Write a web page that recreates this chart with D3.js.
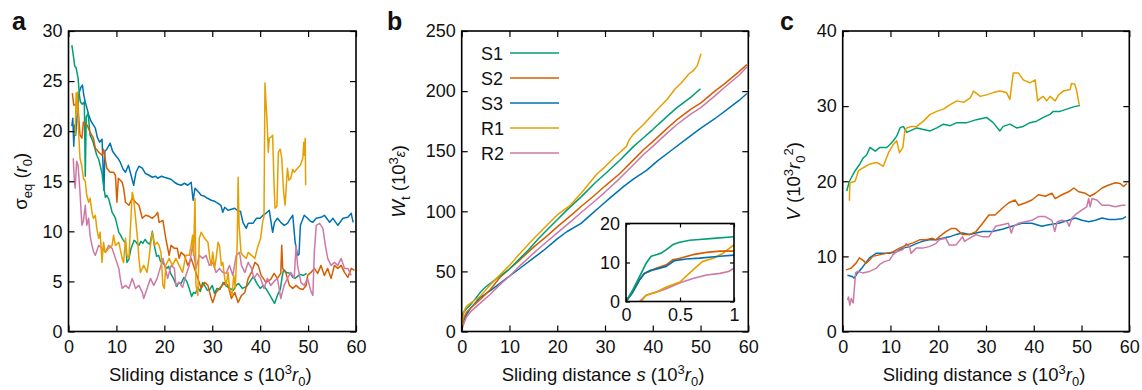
<!DOCTYPE html>
<html>
<head>
<meta charset="utf-8">
<script src="https://cdn.jsdelivr.net/npm/d3@7"></script>
<style>
  body { margin: 0; background: #fff; }
  svg text { font-family: "Liberation Sans", Arial, Helvetica, sans-serif; fill: #111; }
</style>
</head>
<body>
<div id="chart"></div>
<script>
// ---- data: [sliding distance s (10^3 r0), value] ----
const seriesKeys = ['S1', 'S2', 'S3', 'R1', 'R2'];

// panel a: sigma_eq (r0)
const sigmaS1 = [[0.7,28.6],[1.0,27.6],[1.3,26.5],[1.6,26.3],[2.0,25.3],[2.3,23.5],[2.5,22.9],[2.9,22.7],[3.3,22.9],[3.5,15.5],[3.7,21.4],[4.1,21.8],[4.5,19.6],[4.9,19.2],[5.2,18.8],[5.6,18.1],[5.9,17.6],[6.3,17.2],[6.6,16.6],[7.0,15.8],[7.3,14.6],[7.7,13.4],[8.0,13.6],[8.4,13.2],[8.8,12.5],[9.1,11.9],[9.5,11.6],[9.8,11.3],[10.2,10.5],[10.5,9.9],[10.9,9.6],[11.2,9.3],[11.6,9.0],[11.9,8.9],[12.2,6.9],[12.6,7.2],[13.0,8.2],[13.3,8.6],[13.7,9.1],[14.0,9.0],[14.4,8.7],[14.7,8.6],[15.1,9.0],[15.5,8.8],[16.0,9.2],[16.4,8.9],[17.0,8.7],[17.5,10.0],[17.9,8.6],[18.4,7.5],[18.8,7.6],[19.2,7.0],[19.8,6.8],[20.5,6.3],[20.9,6.5],[21.3,5.8],[21.9,5.3],[22.6,4.5],[23.0,4.9],[23.5,4.8],[24.1,5.4],[24.7,5.0],[25.2,4.3],[25.7,3.5],[26.1,3.9],[26.5,3.8],[27.0,4.4],[27.5,4.0],[28.0,4.9],[28.5,4.5],[29.0,4.1],[29.5,4.2],[30.0,4.6],[30.5,3.8],[31.0,4.3],[31.6,4.2],[32.3,4.9],[33.0,4.5],[33.7,4.3],[34.4,4.1],[35.0,4.6],[35.5,4.8],[36.3,4.3],[37.2,4.5],[37.9,5.0],[38.6,5.5],[39.3,4.8],[40.0,4.3],[40.7,4.6],[41.3,4.2],[41.8,3.8],[42.4,3.3],[43.0,2.8],[43.6,3.6],[44.2,4.2],[44.6,5.5],[44.9,6.2],[45.5,5.9],[46.3,5.8],[46.8,5.4],[47.3,5.3],[47.8,5.5],[48.3,5.7],[49.0,5.6],[49.7,5.8]];
const sigmaS2 = [[0.8,23.8],[1.1,22.6],[1.4,22.6],[1.7,22.9],[2.0,22.3],[2.4,19.6],[2.8,19.3],[3.1,20.9],[3.5,20.7],[3.9,20.6],[4.5,19.9],[5.2,19.3],[5.6,18.3],[6.0,18.1],[6.3,17.9],[7.0,17.6],[7.3,18.2],[8.0,16.3],[8.7,15.9],[9.4,15.9],[9.8,15.6],[10.1,12.9],[10.4,15.3],[11.2,14.9],[11.5,14.3],[11.9,12.9],[12.6,12.6],[13.3,13.3],[14.0,12.9],[14.7,12.6],[15.4,11.3],[16.1,11.6],[16.8,11.5],[17.5,11.3],[18.2,11.6],[18.6,11.9],[18.9,10.9],[19.7,11.1],[20.3,9.3],[21.0,7.6],[21.4,8.6],[22.1,8.3],[22.7,8.3],[23.1,7.3],[23.5,7.9],[24.2,7.6],[24.9,6.6],[25.6,7.3],[26.3,6.3],[27.0,5.3],[27.7,4.3],[28.4,4.9],[29.1,4.6],[29.8,3.3],[30.1,2.9],[30.8,3.9],[31.5,4.3],[32.6,4.9],[33.3,4.6],[34.0,3.3],[34.7,3.9],[35.4,2.9],[36.1,3.6],[36.8,3.9],[37.5,5.3],[38.2,5.9],[38.9,6.9],[39.6,6.6],[40.2,5.6],[40.8,5.2],[41.2,4.9],[42.2,5.2],[42.9,5.8],[43.6,5.3],[44.3,5.8],[44.5,8.6],[44.7,6.3],[45.4,5.8],[46.1,4.6],[46.8,4.3],[47.5,4.6],[48.2,4.3],[48.9,4.2],[49.6,4.6],[49.9,5.6],[50.6,5.9],[51.3,6.3],[52.0,5.8],[52.7,6.6],[53.4,5.6],[54.1,6.3],[54.8,5.3],[55.5,6.6],[56.2,6.3],[56.9,6.6],[57.6,5.9],[58.3,5.4],[59.0,6.3],[59.7,6.1]];
const sigmaS3 = [[0.7,20.5],[0.9,21.3],[1.1,18.5],[1.3,20.6],[1.5,19.6],[1.8,21.5],[2.2,23.8],[2.6,24.4],[2.9,24.6],[3.2,23.6],[3.5,22.9],[3.9,22.2],[4.3,21.5],[4.7,21.0],[5.2,20.6],[5.6,20.3],[6.0,19.4],[6.5,18.9],[7.0,19.2],[7.4,14.1],[7.6,18.0],[8.0,18.2],[8.7,18.8],[9.2,18.0],[9.8,17.6],[10.3,17.3],[10.8,16.9],[11.4,16.2],[11.9,15.9],[12.5,16.6],[13.0,15.7],[13.6,14.6],[14.1,15.9],[14.7,16.5],[15.4,16.3],[16.0,15.8],[16.8,15.6],[17.5,15.4],[18.2,15.5],[18.6,15.3],[19.4,15.5],[20.0,15.4],[20.7,15.3],[21.4,15.2],[22.1,14.9],[22.8,14.7],[23.5,14.6],[24.2,14.8],[24.9,14.6],[25.6,14.9],[26.0,13.1],[26.4,14.3],[27.0,14.0],[27.7,13.6],[28.4,13.5],[29.0,13.3],[29.8,13.1],[30.5,13.0],[31.2,12.8],[31.8,12.6],[32.2,11.9],[32.6,12.4],[33.3,12.1],[34.0,12.2],[34.7,12.3],[35.4,12.0],[35.9,12.0],[36.4,10.9],[37.1,10.3],[37.5,10.8],[38.5,10.8],[39.2,11.3],[40.0,11.3],[40.6,11.6],[41.2,11.8],[41.9,12.1],[42.6,9.9],[43.0,10.9],[43.6,11.3],[44.3,10.9],[45.0,10.6],[45.7,10.8],[46.2,11.2],[46.8,11.6],[47.3,8.9],[47.8,7.6],[48.1,7.7],[48.4,10.6],[49.2,11.6],[49.9,11.3],[50.5,11.0],[51.0,10.9],[51.7,11.3],[52.7,11.4],[53.4,11.6],[54.5,10.9],[55.2,11.3],[56.2,10.6],[57.3,11.3],[58.3,11.4],[59.0,11.8],[59.4,10.9]];
const sigmaR1 = [[1.4,19.6],[1.6,23.8],[1.7,21.9],[1.9,23.9],[2.1,20.0],[2.4,17.3],[2.8,16.5],[3.1,15.3],[3.5,15.0],[3.8,13.6],[4.2,12.9],[4.5,13.3],[4.9,11.9],[5.2,11.3],[5.6,11.6],[5.9,10.3],[6.3,9.3],[6.6,9.9],[7.0,6.9],[7.3,8.9],[7.7,7.9],[8.4,8.3],[9.1,8.6],[9.4,9.6],[9.8,8.6],[10.5,8.9],[11.2,7.3],[11.5,6.9],[11.9,9.3],[12.2,7.6],[12.6,7.3],[13.0,11.0],[13.3,13.9],[13.6,13.3],[14.0,11.3],[14.4,9.3],[14.7,7.3],[15.0,5.9],[15.7,6.6],[16.4,5.9],[16.8,7.3],[17.1,8.6],[17.5,9.9],[18.0,8.6],[18.5,8.9],[18.9,8.6],[19.3,7.9],[19.7,4.6],[20.0,4.3],[20.3,6.6],[21.0,7.3],[21.7,6.6],[22.4,7.3],[23.1,6.6],[23.8,5.9],[24.5,7.6],[25.2,7.6],[25.6,8.6],[25.9,9.6],[26.1,7.6],[26.4,13.3],[26.6,4.6],[27.0,3.6],[27.3,9.3],[27.7,9.9],[28.4,9.3],[29.1,8.9],[29.5,7.3],[29.8,6.6],[30.1,7.9],[30.5,6.3],[30.8,7.3],[31.2,8.9],[31.5,8.6],[31.9,6.6],[32.2,6.9],[32.6,5.3],[32.9,4.6],[33.3,5.9],[33.6,4.3],[34.1,3.6],[34.5,5.6],[34.8,4.3],[35.2,8.6],[35.4,15.4],[35.6,10.6],[36.0,7.9],[36.4,7.6],[37.1,7.3],[37.5,7.9],[38.2,7.6],[38.9,7.3],[39.4,8.3],[40.1,9.3],[40.5,10.9],[40.8,11.5],[41.0,24.8],[41.4,21.3],[41.7,17.9],[41.9,19.3],[42.3,19.4],[42.6,19.6],[42.9,14.6],[43.1,12.3],[43.5,12.5],[43.8,17.9],[44.2,18.2],[44.5,17.3],[44.9,13.9],[45.2,12.6],[45.5,14.9],[45.7,16.3],[46.0,15.1],[46.4,15.3],[46.8,16.2],[47.1,15.9],[47.8,16.3],[48.4,16.6],[48.9,17.3],[49.1,18.9],[49.25,17.6],[49.4,19.3],[49.5,14.6]];
const sigmaR2 = [[1.0,17.3],[1.2,15.2],[1.4,14.3],[1.7,17.0],[2.0,16.6],[2.4,13.9],[2.8,10.6],[3.1,11.0],[3.5,12.6],[3.8,10.6],[4.2,11.3],[4.5,9.6],[4.9,8.6],[5.2,8.0],[5.6,7.6],[6.3,8.6],[7.0,8.3],[7.7,7.9],[8.4,8.6],[9.1,8.3],[9.8,7.3],[10.5,6.3],[10.8,5.3],[11.2,4.3],[11.9,4.6],[12.6,4.3],[13.3,5.3],[14.0,4.3],[14.7,4.6],[15.4,3.9],[15.7,3.3],[16.4,4.3],[17.1,5.3],[17.8,4.6],[18.5,5.3],[19.3,6.6],[19.7,7.3],[20.7,5.3],[21.4,6.6],[22.1,6.3],[22.4,4.6],[23.1,4.9],[23.8,4.4],[24.5,5.6],[25.2,6.6],[25.9,8.6],[26.2,7.6],[26.6,6.3],[27.3,7.6],[28.0,7.3],[28.7,7.6],[29.4,6.6],[30.1,6.9],[30.8,5.9],[31.5,6.3],[32.2,5.9],[32.9,5.8],[33.6,6.6],[34.3,5.6],[35.0,7.6],[35.7,7.9],[36.1,6.6],[36.8,5.9],[37.5,6.9],[38.2,6.3],[38.7,5.3],[39.4,5.8],[40.1,5.3],[40.8,4.3],[41.5,5.3],[42.2,4.6],[42.9,5.0],[43.6,5.3],[44.3,3.3],[45.0,4.6],[45.7,5.3],[46.4,5.9],[47.1,5.3],[47.5,8.6],[47.8,6.6],[48.5,4.9],[49.2,4.6],[49.9,5.3],[50.6,4.0],[51.0,3.6],[51.3,7.9],[51.7,10.6],[52.4,10.8],[53.1,10.3],[53.6,8.6],[54.1,7.3],[54.8,6.6],[55.5,6.9],[56.2,6.6],[56.9,7.3],[57.6,6.3],[58.3,6.3],[59.0,5.6]];

// panel b: W_t (10^3 eps)
const workS1 = [[0,2],[0.2,15],[1,19],[2,23],[3,28],[4,33],[5,37],[6,40],[8,46],[10,52],[12,60],[14,68],[16,77],[18,85],[20,93],[22,101],[25,112],[28,124],[30,131],[33,142],[36,154],[38,161],[40,168],[43,179],[45,186],[48,195],[50,202]];
const workS2 = [[0,2],[0.3,10],[1,16],[2,20],[4,27],[6,35],[8,45],[10,52],[12,59],[15,70],[18,80],[20,87],[23,97],[25,104],[28,114],[30,121],[33,131],[36,143],[38,151],[40,158],[43,169],[45,176],[48,185],[50,190],[53,200],[55,206],[58,216],[59.7,222]];
const workS3 = [[0,1],[0.3,8],[1,14],[2,20],[3.8,28],[6,34],[8,40],[10,46],[12,52],[15,61],[17,67],[20,77],[22,83],[25,90],[27,97],[29,104],[31,111],[34,121],[36,127],[38.7,134],[41,142],[44,151],[47,160],[50,169],[53,177],[56,186],[58,192],[59.7,198]];
const workR1 = [[0,3],[0.2,10],[0.5,17],[1,21],[2,24],[3.8,29],[6,39],[8,47],[10,55],[12,64],[15,77],[18,89],[20,97],[22.7,105],[25,115],[28.3,131],[30,137],[32,145],[34.5,154],[35,159],[35.9,164],[38,172],[40.8,184],[43,193],[44.7,202],[46,207],[47.5,214],[48.5,217],[49.3,221],[50.1,231]];
const workR2 = [[0,1],[0.3,5],[1,12],[2,17],[4,24],[6,31],[8,39],[10,46],[12,54],[15,65],[17,72],[20,82],[23,92],[25,99],[28,109],[30,116],[33,127],[36,139],[38,147],[40,154],[43,165],[45,172],[48,181],[50,186],[53,196],[55,203],[58,213],[59.7,220]];

// panel b inset: s in 0..1 (10^3 r0), W_t
const insetS1 = [[0,0],[0.062,2.9],[0.124,6.3],[0.186,9.8],[0.233,11.6],[0.28,12],[0.326,12.4],[0.373,13.3],[0.435,14.6],[0.497,15.2],[0.59,15.7],[0.68,15.9],[0.81,16.2],[1,16.6]];
const insetS2 = [[0,0],[0.062,2.4],[0.124,5.5],[0.17,7.2],[0.217,7.7],[0.28,8.5],[0.373,9.4],[0.435,10.7],[0.5,11.1],[0.62,12],[0.745,12.6],[0.87,12.9],[1,12.9]];
const insetS3 = [[0,0],[0.062,2.4],[0.124,5.5],[0.17,7.2],[0.217,7.9],[0.28,8.3],[0.373,9],[0.45,10.5],[0.56,10.9],[0.68,11.1],[0.87,11.6],[1,11.9]];
const insetR1 = [[0.14,0],[0.186,1.6],[0.28,2.4],[0.373,3.7],[0.5,5],[0.62,8.1],[0.71,10.3],[0.81,11.1],[0.9,12.4],[1,14.6]];
const insetR2 = [[0.124,0],[0.186,1.6],[0.28,2.4],[0.373,3.3],[0.5,4.8],[0.62,5.9],[0.745,6.8],[0.87,7.2],[0.95,7.7],[1,8.5]];

// panel c: V (10^3 r0^2)
const volS1 = [[0.84,18.7],[1.4,20],[2.6,21.4],[3.6,22.3],[4.3,23.1],[5.0,23.5],[5.7,24.5],[6.8,24],[7.8,24.5],[9.2,24.5],[9.9,24.9],[10.6,25.4],[11.3,26],[12,27.1],[12.7,27.3],[13.4,26.5],[14.1,26.7],[15.5,27.1],[16.9,26.9],[18.3,26.7],[19.7,27.1],[21.1,27.6],[22.5,27.4],[23.9,27.8],[26,27.8],[28,28.2],[30.1,28.5],[31.5,27.8],[32.9,26.7],[33.6,27.3],[35,27.6],[36.4,27.1],[37.8,27.3],[39.2,27.8],[40.6,28],[42,28.5],[43.4,28.9],[44.1,29.3],[45.5,29.3],[46.9,29.6],[48.3,29.9],[49.7,30.1]];
const volS2 = [[0.7,8.2],[1.7,8.4],[2.8,9.1],[3.5,9.8],[4.2,9.5],[4.9,9.1],[5.6,9.5],[6.3,10],[7.7,10.2],[9.1,10.4],[10.5,10.6],[11.9,11.1],[13.3,11.5],[14.7,11.8],[16.1,12.2],[17.4,12.2],[18.8,12.4],[19.5,12.2],[20.2,12.6],[21.6,13.3],[22.7,13.7],[23.7,13.7],[24.4,13.3],[25.1,12.9],[26.5,12.9],[27.9,13.3],[29.3,14.4],[30.6,15.5],[31.9,15.5],[33.4,16.4],[34.7,17.1],[36.1,17.5],[36.8,16.8],[38.2,17.1],[39.6,17.5],[41,18.2],[42.4,18],[43.8,18.4],[44.5,17.7],[45.9,18.2],[47.3,18.6],[48.4,19.1],[49.4,18.6],[50.8,18.4],[51.8,18],[52.9,18.4],[54.3,19.1],[55.7,19.5],[57.1,19.8],[58.1,19.7],[58.8,19.3],[59.5,19.7]];
const volS3 = [[1,7.5],[2.1,7.3],[2.4,7.1],[3.1,7.8],[4.2,8.6],[5.6,9.8],[7,10.4],[8.4,10.4],[9.8,10.4],[11.2,10.6],[12.6,11.1],[14,11.3],[15.4,11.7],[16.7,12],[18.1,12.2],[19.5,12.2],[20.9,12.4],[22.3,12.6],[23.7,12.9],[25.1,13.1],[26.5,12.9],[27.9,13.1],[29.3,13.3],[31.3,13.3],[33.4,13.6],[35.4,14],[37.5,14.4],[39.6,14.4],[41.7,14],[43.1,14.2],[45.2,14.4],[47.3,14.8],[48.7,15.1],[50.1,14.8],[51.5,14.6],[52.9,14.8],[54.3,15.1],[55.7,14.9],[57.1,14.9],[58.5,15],[59.3,15.3]];
const volR1 = [[1.4,17.4],[1.5,19.8],[2.6,20],[3.3,21.4],[4.3,21.8],[5.7,22.3],[7.1,22.5],[8.5,22],[9.6,23.8],[10.6,24.9],[11.3,25.4],[11.9,23.8],[12.6,24.5],[13,26.7],[13.4,27.1],[14.4,27.3],[15.5,27.3],[16.9,28],[18.3,28.9],[19.7,29.3],[21.1,29.6],[22.5,30.2],[23.9,30.7],[25.3,30.5],[26.7,31.1],[27.4,32],[28.8,31.3],[30.1,31.5],[31.5,31.8],[32.9,32],[34.3,31.8],[35,30.9],[35.7,34.4],[36.8,34.4],[37.8,33.5],[39.2,33.1],[40.3,33.5],[40.8,30.7],[41.3,31],[42,31.3],[42.7,30.7],[43.4,31.3],[44.5,30.7],[45.2,31.5],[46.2,32],[47.6,32.2],[47.9,33],[48.6,32.9],[49,32],[49.5,30.2]];
const volR2 = [[1,4.2],[1.2,4.6],[1.5,3.5],[1.8,4.4],[2.2,3.8],[2.7,7.8],[3.1,8],[4.2,7.8],[5.6,8],[7,8.4],[7.7,8.9],[8.7,9.3],[9.8,9.5],[10.5,10.2],[11.2,10.6],[12.6,10.9],[13.3,11.7],[14,11.3],[14.3,10.4],[15.4,11.1],[16.7,11.1],[18.1,11.3],[19.5,11.7],[20.2,12.2],[21.6,12.4],[22.3,11.5],[23.7,11.5],[25.1,12.6],[25.5,12],[26.5,12.4],[27.9,12.9],[29.3,12.6],[30.6,12.6],[32,14],[33.4,14.2],[34.7,14.4],[35.3,13.1],[35.8,14],[36.8,14.4],[38.2,14.6],[39.6,14.8],[41,15.3],[42.4,15.3],[43.8,14.8],[44.4,13.3],[44.9,14.6],[45.9,14.8],[47,14.6],[47.4,14],[48,15.1],[49,15.7],[50.1,16.2],[51.1,16.6],[51.5,17.7],[51.8,16.6],[52.2,17.7],[53.2,17.5],[54.3,16.8],[55.7,16.8],[57.1,16.6],[58.5,16.8],[59.2,16.8]];

const xTicks = [0, 10, 20, 30, 40, 50, 60];
const colors = { S1: '#009E73', S2: '#D55E00', S3: '#0072B2', R1: '#E69F00', R2: '#CC79A7' };

// ---- layout ----
const width = 1142, height = 390;
const fontSize = 18;
const labelSize = 18.5;
const smallSize = 13;
const svg = d3.select('#chart').append('svg')
  .attr('width', width).attr('height', height);

function styleAxis(sel) {
  sel.select('.domain').remove();
  sel.selectAll('.tick line').attr('stroke', '#000').attr('stroke-width', 1.2);
  sel.selectAll('text').attr('font-size', fontSize).attr('font-family', null).attr('fill', '#111');
  sel.attr('font-size', null).attr('font-family', null);
}

function drawPanel(p) {
  const x = d3.scaleLinear().domain(p.xDomain).range([p.left, p.right]);
  const y = d3.scaleLinear().domain(p.yDomain).range([p.bottom, p.top]);
  const g = svg.append('g');
  const tick = p.tick || 6;

  g.append('clipPath').attr('id', 'clip-' + p.id)
    .append('rect')
    .attr('x', p.left).attr('y', p.top)
    .attr('width', p.right - p.left).attr('height', p.bottom - p.top);

  if (p.background) {
    g.append('rect')
      .attr('x', p.left).attr('y', p.top)
      .attr('width', p.right - p.left).attr('height', p.bottom - p.top)
      .attr('fill', '#fff');
  }

  const line = d3.line().x(d => x(d[0])).y(d => y(d[1]));
  g.append('g').attr('clip-path', 'url(#clip-' + p.id + ')')
    .selectAll('path')
    .data(p.series)
    .join('path')
    .attr('d', d => line(d.values))
    .attr('fill', 'none')
    .attr('stroke', d => colors[d.key])
    .attr('stroke-width', p.lineWidth || 1.5)
    .attr('stroke-linejoin', 'round');

  const fmtX = p.xFormat || (d => d);
  g.append('g').attr('transform', 'translate(0,' + p.bottom + ')')
    .call(d3.axisBottom(x).tickValues(p.xTicks).tickFormat(fmtX).tickSize(-tick).tickSizeOuter(0).tickPadding(p.xPad || 9))
    .call(styleAxis);
  g.append('g').attr('transform', 'translate(0,' + p.top + ')')
    .call(d3.axisTop(x).tickValues(p.xTicks).tickFormat('').tickSize(-tick).tickSizeOuter(0))
    .call(styleAxis);
  g.append('g').attr('transform', 'translate(' + p.left + ',0)')
    .call(d3.axisLeft(y).tickValues(p.yTicks).tickSize(-tick).tickSizeOuter(0).tickPadding(p.yPad || 6))
    .call(styleAxis);
  g.append('g').attr('transform', 'translate(' + p.right + ',0)')
    .call(d3.axisRight(y).tickValues(p.yTicks).tickFormat('').tickSize(-tick).tickSizeOuter(0))
    .call(styleAxis);

  g.append('rect')
    .attr('x', p.left).attr('y', p.top)
    .attr('width', p.right - p.left).attr('height', p.bottom - p.top)
    .attr('fill', 'none').attr('stroke', '#000').attr('stroke-width', 1.6);

  if (p.letter) {
    g.append('text')
      .attr('x', p.letterX).attr('y', 30)
      .attr('font-size', 25).attr('font-weight', 'bold')
      .text(p.letter);
  }
  if (p.xLabel) {
    const t = g.append('text')
      .attr('x', (p.left + p.right) / 2 - 2).attr('y', 381)
      .attr('text-anchor', 'middle').attr('font-size', labelSize);
    t.append('tspan').text('Sliding distance ');
    t.append('tspan').attr('font-style', 'italic').text('s');
    t.append('tspan').text(' (10');
    t.append('tspan').attr('font-size', smallSize).attr('dy', -7).text('3');
    t.append('tspan').attr('font-style', 'italic').attr('dy', 7).text('r');
    t.append('tspan').attr('font-size', smallSize).attr('dy', 5).text('0');
    t.append('tspan').attr('dy', -5).text(')');
  }
  if (p.yLabel) {
    const t = g.append('text')
      .attr('transform', 'translate(' + p.yLabelX + ',' + (p.top + p.bottom) / 2 + ') rotate(-90)')
      .attr('text-anchor', 'middle').attr('font-size', labelSize);
    p.yLabel(t);
  }
  return { x, y, g };
}

// panel a
drawPanel({
  id: 'a', letter: 'a', letterX: 12,
  left: 68.5, right: 356, top: 31, bottom: 331.5,
  xDomain: [0, 60], yDomain: [0, 30],
  xTicks: xTicks, yTicks: [0, 5, 10, 15, 20, 25, 30],
  series: [
    { key: 'S3', values: sigmaS3 },
    { key: 'S1', values: sigmaS1 },
    { key: 'S2', values: sigmaS2 },
    { key: 'R2', values: sigmaR2 },
    { key: 'R1', values: sigmaR1 },
  ],
  xLabel: true, yLabelX: 27,
  yLabel: t => {
    t.append('tspan').text('σ');
    t.append('tspan').attr('font-size', smallSize).attr('dy', 5).text('eq');
    t.append('tspan').attr('dy', -5).text(' (');
    t.append('tspan').attr('font-style', 'italic').text('r');
    t.append('tspan').attr('font-size', smallSize).attr('dy', 5).text('0');
    t.append('tspan').attr('dy', -5).text(')');
  },
});

// panel b
const pb = drawPanel({
  id: 'b', letter: 'b', letterX: 387,
  left: 461.7, right: 748.3, top: 31, bottom: 331.5,
  xDomain: [0, 60], yDomain: [0, 250],
  xTicks: xTicks, yTicks: [0, 50, 100, 150, 200, 250],
  series: [
    { key: 'S3', values: workS3 },
    { key: 'R2', values: workR2 },
    { key: 'S2', values: workS2 },
    { key: 'S1', values: workS1 },
    { key: 'R1', values: workR1 },
  ],
  xLabel: true, yLabelX: 405,
  yLabel: t => {
    t.append('tspan').attr('font-style', 'italic').text('W');
    t.append('tspan').attr('font-size', smallSize).attr('dy', 5).text('t');
    t.append('tspan').attr('dy', -5).text(' (10');
    t.append('tspan').attr('font-size', smallSize).attr('dy', -7).text('3');
    t.append('tspan').attr('font-style', 'italic').attr('font-size', 14).attr('dy', 7).text('ε');
    t.append('tspan').text(')');
  },
});

// legend in panel b
const legend = pb.g.append('g').attr('transform', 'translate(481,53)');
const legendRows = legend.selectAll('g').data(seriesKeys).join('g')
  .attr('transform', (d, i) => 'translate(0,' + i * 25 + ')');
legendRows.append('text').attr('y', 6.5).attr('font-size', fontSize).text(d => d);
legendRows.append('line')
  .attr('x1', 29).attr('x2', 78).attr('y1', 0).attr('y2', 0)
  .attr('stroke', d => colors[d]).attr('stroke-width', 1.5);

// inset of panel b
drawPanel({
  id: 'inset', background: true,
  left: 626, right: 734, top: 223.5, bottom: 301.5,
  xDomain: [0, 1], yDomain: [0, 20],
  xTicks: [0, 0.5, 1], yTicks: [0, 10, 20],
  xFormat: d => String(d),
  tick: 4, xPad: 7, yPad: 6, lineWidth: 1.7,
  series: [
    { key: 'R2', values: insetR2 },
    { key: 'R1', values: insetR1 },
    { key: 'S2', values: insetS2 },
    { key: 'S3', values: insetS3 },
    { key: 'S1', values: insetS1 },
  ],
});

// panel c
drawPanel({
  id: 'c', letter: 'c', letterX: 780,
  left: 842.7, right: 1129.3, top: 31, bottom: 331.5,
  xDomain: [0, 60], yDomain: [0, 40],
  xTicks: xTicks, yTicks: [0, 10, 20, 30, 40],
  series: [
    { key: 'S3', values: volS3 },
    { key: 'R2', values: volR2 },
    { key: 'S2', values: volS2 },
    { key: 'S1', values: volS1 },
    { key: 'R1', values: volR1 },
  ],
  xLabel: true, yLabelX: 800,
  yLabel: t => {
    t.append('tspan').attr('font-style', 'italic').text('V');
    t.append('tspan').text(' (10');
    t.append('tspan').attr('font-size', smallSize).attr('dy', -7).text('3');
    t.append('tspan').attr('font-style', 'italic').attr('dy', 7).text('r');
    t.append('tspan').attr('font-size', smallSize).attr('dy', 5).text('0');
    t.append('tspan').attr('font-size', smallSize).attr('dy', -12).text('2');
    t.append('tspan').attr('dy', 7).text(')');
  },
});
</script>
</body>
</html>
